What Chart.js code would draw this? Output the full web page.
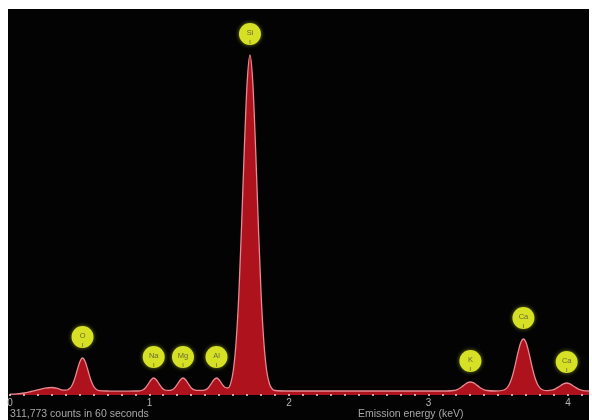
<!DOCTYPE html>
<html>
<head>
<meta charset="utf-8">
<script src="https://cdn.jsdelivr.net/npm/chart.js@4.4.1/dist/chart.umd.min.js"></script>
<style>
  body { margin: 0; background: #fff; }
  #wrap { position: relative; width: 592px; height: 420px; }
  #panel { position: absolute; left: 8px; top: 9px; width: 581px; height: 411px; background: #030303; }
  canvas { position: absolute; left: 0; top: 0; }
  .note { position: absolute; top: 407px; font: 10.5px "Liberation Sans", Arial, sans-serif; color: #a8a8a8; white-space: nowrap; }
</style>
</head>
<body>
<div id="wrap">
  <div id="panel"></div>
  <canvas id="spectrum" width="592" height="420"></canvas>
  <div class="note" style="left:10px">311,773 counts in 60 seconds</div>
  <div class="note" style="left:358px">Emission energy (keV)</div>
</div>
<script>
// energy in keV, counts (relative)
let energy = [0, 0.05, 0.10, 0.15, 0.20, 0.25, 0.30, 0.34, 0.37,
  0.40, 0.42, 0.44, 0.46, 0.48, 0.50, 0.52, 0.54, 0.56, 0.58, 0.60, 0.62, 0.64,
  0.70, 0.80, 0.90,
  0.93, 0.95, 0.97, 0.99, 1.01, 1.03, 1.05, 1.07, 1.09, 1.11, 1.135,
  1.16, 1.18, 1.20, 1.22, 1.24, 1.26, 1.28, 1.30, 1.32, 1.36,
  1.40, 1.42, 1.44, 1.46, 1.48, 1.50, 1.52, 1.54, 1.56,
  1.58, 1.60, 1.62, 1.64, 1.66, 1.68, 1.70, 1.72, 1.74, 1.76, 1.78, 1.80, 1.82, 1.84, 1.86, 1.88, 1.90,
  2.00, 2.20, 2.40, 2.60, 2.80, 3.00, 3.10, 3.18,
  3.20, 3.22, 3.24, 3.26, 3.28, 3.30, 3.32, 3.34, 3.36, 3.38, 3.40, 3.42,
  3.48, 3.54, 3.56, 3.58, 3.60, 3.62, 3.64, 3.66, 3.68, 3.70, 3.72, 3.74, 3.76, 3.78, 3.80, 3.82,
  3.85, 3.89, 3.91, 3.93, 3.95, 3.97, 3.99, 4.01, 4.03, 4.05, 4.07, 4.09, 4.11, 4.15];

let counts = [8, 12, 20, 35, 52, 68, 75, 66, 52,
  48, 58, 85, 147, 240, 331, 370, 331, 240, 147, 85, 55, 44,
  40, 38, 40,
  42, 50, 70, 108, 150, 170, 150, 108, 70, 50, 46,
  52, 70, 108, 150, 170, 150, 108, 70, 52, 46,
  52, 70, 108, 150, 170, 150, 108, 77, 70,
  109, 240, 520, 1000, 1700, 2480, 3130, 3400, 3130, 2480, 1700, 1000, 520, 240, 110, 60, 45,
  40, 40, 40, 40, 40, 40, 40, 45,
  52, 65, 84, 105, 123, 130, 123, 105, 84, 65, 52, 45,
  40, 50, 69, 110, 185, 293, 418, 520, 560, 520, 418, 293, 185, 110, 69, 50,
  43, 51, 62, 79, 98, 114, 120, 114, 98, 79, 62, 51, 44, 40];

let tickLabels = [0, 1, 2, 3, 4];
let peakNames = ["O", "Na", "Mg", "Al", "Si", "K", "Ca", "Ca"];
let peakEnergy = [0.52, 1.03, 1.24, 1.48, 1.72, 3.30, 3.68, 3.99];

let points = energy.map(function (e, i) { return { x: e, y: counts[i] }; });

// energy axis: dots every 0.1 keV and the keV labels
const energyAxis = {
  id: "energyAxis",
  afterDatasetsDraw(chart) {
    const ctx = chart.ctx, xs = chart.scales.x, y = chart.chartArea.bottom;
    ctx.save();
    ctx.fillStyle = "rgba(235,225,225,0.75)";
    for (let k = 0; k <= 41; k++) {
      const px = xs.getPixelForValue(k / 10);
      ctx.fillRect(Math.round(px) - 1, y - 1, 2, 2);
    }
    ctx.fillStyle = "#b4b4b4";
    ctx.font = "10px 'Liberation Sans', Arial, sans-serif";
    ctx.textAlign = "center";
    ctx.textBaseline = "middle";
    tickLabels.forEach(function (v) {
      ctx.fillText(String(v), xs.getPixelForValue(v), y + 8);
    });
    ctx.restore();
  }
};

// yellow element badges above each peak
const peakBadges = {
  id: "peakBadges",
  afterDatasetsDraw(chart) {
    const ctx = chart.ctx, xs = chart.scales.x, ys = chart.scales.y;
    ctx.save();
    peakNames.forEach(function (name, i) {
      const idx = energy.indexOf(peakEnergy[i]);
      const cx = xs.getPixelForValue(peakEnergy[i]);
      const cy = ys.getPixelForValue(counts[idx]) - 21;
      ctx.shadowColor = "rgba(200,220,40,0.6)";
      ctx.shadowBlur = 4;
      ctx.fillStyle = "#d6e024";
      ctx.beginPath();
      ctx.arc(cx, cy, 11, 0, Math.PI * 2);
      ctx.fill();
      ctx.shadowBlur = 0;
      ctx.strokeStyle = "rgba(120,120,60,0.8)";
      ctx.lineWidth = 1;
      ctx.beginPath();
      ctx.moveTo(cx, cy + 6);
      ctx.lineTo(cx, cy + 10);
      ctx.stroke();
      ctx.fillStyle = "#6a6a3a";
      ctx.font = "7.5px 'Liberation Sans', Arial, sans-serif";
      ctx.textAlign = "center";
      ctx.textBaseline = "middle";
      ctx.fillText(name, cx, cy - 1);
    });
    ctx.restore();
  }
};

new Chart(document.getElementById("spectrum"), {
  type: "line",
  data: {
    datasets: [{
      data: points,
      fill: "origin",
      backgroundColor: "#ae121d",
      borderColor: "#e88890",
      borderWidth: 1.3,
      pointRadius: 0,
      cubicInterpolationMode: "monotone"
    }]
  },
  options: {
    responsive: false,
    animation: false,
    layout: { padding: { left: 10, right: 3, top: 9, bottom: 25 } },
    plugins: { legend: { display: false }, tooltip: { enabled: false } },
    scales: {
      x: { type: "linear", display: false, min: 0, max: 4.15 },
      y: { display: false, min: 0, max: 3860 }
    }
  },
  plugins: [energyAxis, peakBadges]
});
</script>
</body>
</html>
